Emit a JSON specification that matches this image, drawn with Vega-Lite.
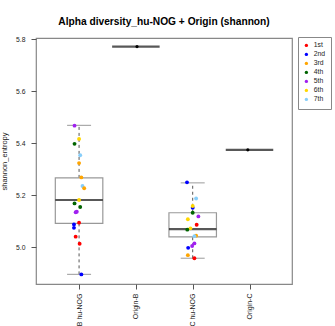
{
  "$schema": "https://vega.github.io/schema/vega-lite/v6.json",
  "autosize": "none",
  "width": 256,
  "height": 246,
  "padding": {"left": 36, "top": 38, "right": 43, "bottom": 42},
  "background": "white",
  "config": {
    "font": "Liberation Sans",
    "view": {"stroke": "#888888", "strokeWidth": 1.2}
  },
  "title": {
    "text": "Alpha diversity_hu-NOG + Origin (shannon)",
    "fontSize": 10.2,
    "fontWeight": "bold",
    "color": "#000000",
    "anchor": "middle",
    "offset": 9
  },
  "datasets": {
    "boxes": [
      {"group": 1, "lo": 4.896, "q1": 5.092, "med": 5.182, "q3": 5.267, "hi": 5.469},
      {"group": 3, "lo": 4.958, "q1": 5.040, "med": 5.070, "q3": 5.133, "hi": 5.248}
    ],
    "medians": [
      {"group": 1, "med": 5.182},
      {"group": 2, "med": 5.772},
      {"group": 3, "med": 5.070},
      {"group": 4, "med": 5.375}
    ],
    "points": [
      {"x": 0.92, "y": 5.468, "batch": "5th"},
      {"x": 1.00, "y": 5.417, "batch": "6th"},
      {"x": 0.92, "y": 5.398, "batch": "4th"},
      {"x": 1.02, "y": 5.354, "batch": "7th"},
      {"x": 1.00, "y": 5.324, "batch": "3rd"},
      {"x": 1.04, "y": 5.269, "batch": "3rd"},
      {"x": 1.06, "y": 5.236, "batch": "7th"},
      {"x": 1.09, "y": 5.227, "batch": "3rd"},
      {"x": 1.00, "y": 5.182, "batch": "6th"},
      {"x": 0.92, "y": 5.169, "batch": "4th"},
      {"x": 1.02, "y": 5.155, "batch": "4th"},
      {"x": 0.96, "y": 5.137, "batch": "5th"},
      {"x": 0.94, "y": 5.135, "batch": "5th"},
      {"x": 1.00, "y": 5.095, "batch": "1st"},
      {"x": 0.91, "y": 5.088, "batch": "2nd"},
      {"x": 0.91, "y": 5.075, "batch": "2nd"},
      {"x": 0.94, "y": 5.041, "batch": "1st"},
      {"x": 1.01, "y": 5.014, "batch": "1st"},
      {"x": 1.04, "y": 4.896, "batch": "2nd"},
      {"x": 2.90, "y": 5.250, "batch": "2nd"},
      {"x": 3.06, "y": 5.188, "batch": "7th"},
      {"x": 3.00, "y": 5.152, "batch": "2nd"},
      {"x": 3.00, "y": 5.159, "batch": "6th"},
      {"x": 3.00, "y": 5.133, "batch": "4th"},
      {"x": 3.10, "y": 5.119, "batch": "5th"},
      {"x": 2.915, "y": 5.108, "batch": "6th"},
      {"x": 3.07, "y": 5.087, "batch": "1st"},
      {"x": 2.96, "y": 5.073, "batch": "6th"},
      {"x": 2.905, "y": 5.068, "batch": "4th"},
      {"x": 3.06, "y": 5.045, "batch": "3rd"},
      {"x": 3.03, "y": 5.043, "batch": "7th"},
      {"x": 3.03, "y": 5.015, "batch": "5th"},
      {"x": 2.99, "y": 5.005, "batch": "5th"},
      {"x": 2.92, "y": 4.998, "batch": "2nd"},
      {"x": 2.915, "y": 4.970, "batch": "3rd"},
      {"x": 3.03, "y": 4.958, "batch": "1st"}
    ],
    "origin": [
      {"x": 2.02, "y": 5.772},
      {"x": 3.97, "y": 5.375}
    ]
  },
  "encoding": {
    "x": {
      "type": "quantitative",
      "scale": {"domain": [0.33, 4.66], "nice": false, "zero": false},
      "axis": {
        "title": null,
        "values": [1, 2, 3, 4],
        "labelExpr": "datum.value == 1 ? 'Origin-B hu-NOG' : datum.value == 2 ? 'Origin-B' : datum.value == 3 ? 'Origin-C hu-NOG' : 'Origin-C'",
        "labelAngle": -90,
        "labelAlign": "right",
        "labelBaseline": "middle",
        "labelFontSize": 7,
        "labelColor": "#222222",
        "labelPadding": 4,
        "labelOverlap": false,
        "labelBound": false,
        "labelFlush": false,
        "tickSize": 5,
        "tickColor": "#555555",
        "domain": false,
        "grid": false
      }
    },
    "y": {
      "type": "quantitative",
      "scale": {"domain": [4.859, 5.805], "nice": false, "zero": false},
      "axis": {
        "title": "shannon_entropy",
        "titleFontSize": 7.5,
        "titleFontWeight": "normal",
        "titleColor": "#222222",
        "titlePadding": 7,
        "values": [5.0, 5.2, 5.4, 5.6, 5.8],
        "format": ".1f",
        "labelFontSize": 6.8,
        "labelColor": "#222222",
        "labelPadding": 6,
        "labelFlush": false,
        "tickSize": 5,
        "tickColor": "#555555",
        "domain": false,
        "grid": false
      }
    }
  },
  "layer": [
    {
      "data": {"name": "boxes"},
      "mark": {"type": "rule", "color": "#555555", "strokeWidth": 1, "strokeDash": [3, 3]},
      "encoding": {"x": {"field": "group"}, "y": {"field": "q3"}, "y2": {"field": "hi"}}
    },
    {
      "data": {"name": "boxes"},
      "mark": {"type": "rule", "color": "#555555", "strokeWidth": 1, "strokeDash": [3, 3]},
      "encoding": {"x": {"field": "group"}, "y": {"field": "lo"}, "y2": {"field": "q1"}}
    },
    {
      "data": {"name": "boxes"},
      "mark": {"type": "tick", "orient": "horizontal", "size": 24, "thickness": 1.2, "color": "#888888"},
      "encoding": {"x": {"field": "group"}, "y": {"field": "hi"}}
    },
    {
      "data": {"name": "boxes"},
      "mark": {"type": "tick", "orient": "horizontal", "size": 24, "thickness": 1.2, "color": "#888888"},
      "encoding": {"x": {"field": "group"}, "y": {"field": "lo"}}
    },
    {
      "data": {"name": "boxes"},
      "mark": {"type": "bar", "width": 47.5, "fill": "white", "stroke": "#999999", "strokeWidth": 1.2},
      "encoding": {"x": {"field": "group"}, "y": {"field": "q1"}, "y2": {"field": "q3"}}
    },
    {
      "data": {"name": "medians"},
      "mark": {"type": "tick", "orient": "horizontal", "size": 47.5, "thickness": 2.2, "color": "#111111"},
      "encoding": {"x": {"field": "group"}, "y": {"field": "med"}}
    },
    {
      "data": {"name": "points"},
      "mark": {"type": "point", "filled": true, "opacity": 1, "size": 15, "shape": "circle"},
      "encoding": {
        "x": {"field": "x"},
        "y": {"field": "y"},
        "color": {
          "field": "batch",
          "type": "nominal",
          "scale": {
            "domain": ["1st", "2nd", "3rd", "4th", "5th", "6th", "7th"],
            "range": ["#FF0000", "#0000FF", "#FFA500", "#006400", "#A020F0", "#FFD700", "#87CEFA"]
          },
          "legend": {
            "title": null,
            "orient": "none",
            "legendX": 262,
            "legendY": -1,
            "strokeColor": "#888888",
            "padding": 5,
            "symbolType": "circle",
            "symbolSize": 11,
            "symbolStrokeWidth": 0,
            "labelFontSize": 6.8,
            "labelColor": "#222222",
            "labelOffset": 4,
            "rowPadding": 1,
            "fillColor": "white"
          }
        }
      }
    },
    {
      "data": {"name": "origin"},
      "mark": {"type": "point", "filled": true, "opacity": 1, "size": 10, "shape": "circle", "color": "#000000"},
      "encoding": {"x": {"field": "x"}, "y": {"field": "y"}}
    }
  ]
}
